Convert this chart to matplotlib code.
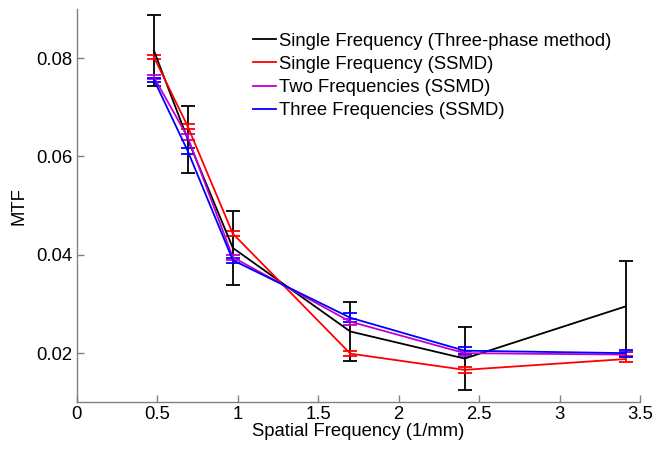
import matplotlib
matplotlib.use("Agg")
import matplotlib.pyplot as plt
from matplotlib.lines import Line2D

plt.rcParams['font.family'] = ['Liberation Sans', 'DejaVu Sans']

freq = [0.48, 0.69, 0.97, 1.70, 2.41, 3.41]

labels = ["Single Frequency (Three-phase method)",
          "Single Frequency (SSMD)",
          "Two Frequencies (SSMD)",
          "Three Frequencies (SSMD)"]

mtf_three_phase = [0.0815, 0.0635, 0.0414, 0.0244, 0.0189, 0.0295]
err_three_phase = [0.0072, 0.0068, 0.0075, 0.0059, 0.0064, 0.0092]

mtf_single = [0.0802, 0.0661, 0.0443, 0.0199, 0.0166, 0.0188]
err_single = [0.0004, 0.0006, 0.0005, 0.0005, 0.0006, 0.0006]

mtf_two = [0.0761, 0.0639, 0.0395, 0.0264, 0.0200, 0.0197]
err_two = [0.0004, 0.0006, 0.0005, 0.0006, 0.0005, 0.0005]

mtf_three = [0.0756, 0.0611, 0.0389, 0.0272, 0.0205, 0.0200]
err_three = [0.0004, 0.0006, 0.0005, 0.0009, 0.0007, 0.0007]

colors = ['#000000', '#ff0000', '#c000d0', '#0000ff']

fs = 13.3
fig = plt.figure(figsize=(6.54, 4.49), dpi=100)
ax = fig.add_axes([0.1173, 0.104, 0.8613, 0.876])

series = [(mtf_three_phase, err_three_phase), (mtf_single, err_single),
          (mtf_two, err_two), (mtf_three, err_three)]
handles = []
for (y, e), c, lab in zip(series, colors, labels):
    ax.errorbar(freq, y, yerr=e, color=c, lw=1.3, elinewidth=1.3,
                capsize=5, capthick=1.3)
    handles.append(Line2D([], [], color=c, lw=1.3, label=lab))

ax.set_xlim(0, 3.5)
ax.set_ylim(0.01, 0.09)
ax.set_xticks([0, 0.5, 1, 1.5, 2, 2.5, 3, 3.5])
ax.set_xticklabels(['0', '0.5', '1', '1.5', '2', '2.5', '3', '3.5'])
ax.set_yticks([0.02, 0.04, 0.06, 0.08])
ax.set_yticklabels(['0.02', '0.04', '0.06', '0.08'])

for s in ['top', 'right']:
    ax.spines[s].set_visible(False)
for s in ['left', 'bottom']:
    ax.spines[s].set_color('#808080')
    ax.spines[s].set_linewidth(1.0)
ax.tick_params(direction='in', length=5, width=1.0, color='#808080',
               labelsize=fs, pad=3)

ax.set_xlabel('Spatial Frequency (1/mm)', fontsize=fs, labelpad=0)
ax.set_ylabel('MTF', fontsize=fs, labelpad=6)

ax.legend(handles=handles, loc='upper left', bbox_to_anchor=(0.387, 0.927),
          bbox_transform=fig.transFigure, frameon=False, fontsize=fs,
          handlelength=1.25, handletextpad=0.16, labelspacing=0.33,
          borderaxespad=0, borderpad=0)

fig.savefig('out.png', dpi=100)
